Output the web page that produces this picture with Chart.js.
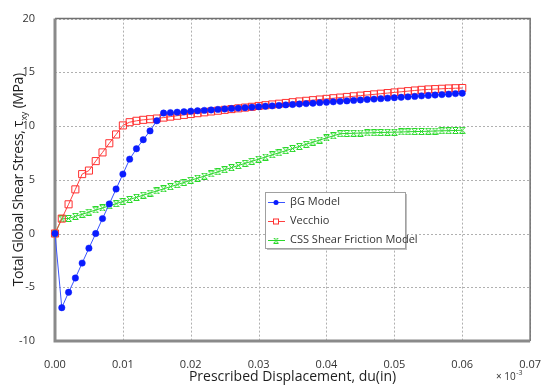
<!DOCTYPE html>
<html lang="en">
<head>
  <meta charset="UTF-8" />
  <title>Shear stress vs displacement</title>
  <script src="https://cdn.jsdelivr.net/npm/chart.js"></script>
  <style>
    html, body { margin: 0; padding: 0; background: #fff; }
    .c-panel_graph { width: 550px; height: 391px; position: relative; }
  </style>
</head>
<body>
  <div class="c-panel_graph">
    <canvas id="myChart_shear"></canvas>
  </div>

  <script>
    // prescribed displacement (x), one step of 0.001
    const displacement = [
      0.000, 0.001, 0.002, 0.003, 0.004, 0.005, 0.006, 0.007, 0.008, 0.009,
      0.010, 0.011, 0.012, 0.013, 0.014, 0.015, 0.016, 0.017, 0.018, 0.019,
      0.020, 0.021, 0.022, 0.023, 0.024, 0.025, 0.026, 0.027, 0.028, 0.029,
      0.030, 0.031, 0.032, 0.033, 0.034, 0.035, 0.036, 0.037, 0.038, 0.039,
      0.040, 0.041, 0.042, 0.043, 0.044, 0.045, 0.046, 0.047, 0.048, 0.049,
      0.050, 0.051, 0.052, 0.053, 0.054, 0.055, 0.056, 0.057, 0.058, 0.059,
      0.060
    ];

    const betaGModel = [
      0, -6.90, -5.47, -4.14, -2.75, -1.36, 0, 1.39, 2.75, 4.14,
      5.53, 6.92, 7.89, 8.73, 9.55, 10.49, 11.21, 11.25, 11.29, 11.33,
      11.38, 11.42, 11.46, 11.50, 11.55, 11.59, 11.63, 11.67, 11.71, 11.76,
      11.80, 11.84, 11.88, 11.92, 11.97, 12.01, 12.05, 12.09, 12.13, 12.18,
      12.22, 12.26, 12.30, 12.34, 12.39, 12.43, 12.47, 12.51, 12.55, 12.60,
      12.64, 12.68, 12.72, 12.76, 12.81, 12.85, 12.89, 12.93, 12.97, 13.02,
      13.06
    ];

    const vecchio = [
      0, 1.39, 2.72, 4.11, 5.53, 5.86, 6.74, 7.55, 8.40, 9.22,
      10.06, 10.36, 10.49, 10.58, 10.64, 10.70, 10.79, 10.88, 10.96, 11.04,
      11.12, 11.20, 11.28, 11.36, 11.43, 11.51, 11.58, 11.65, 11.72, 11.79,
      11.87, 11.94, 12.01, 12.08, 12.15, 12.22, 12.29, 12.35, 12.41, 12.47,
      12.53, 12.59, 12.65, 12.71, 12.77, 12.83, 12.89, 12.95, 13.01, 13.07,
      13.13, 13.19, 13.25, 13.31, 13.37, 13.41, 13.44, 13.47, 13.50, 13.52,
      13.54
    ];

    const cssShearFriction = [
      0, 1.36, 1.40, 1.60, 1.79, 1.99, 2.19, 2.38, 2.58, 2.78,
      2.98, 3.17, 3.37, 3.57, 3.77, 3.96, 4.16, 4.36, 4.55, 4.75,
      4.95, 5.15, 5.34, 5.54, 5.74, 5.94, 6.13, 6.33, 6.53, 6.72,
      6.92, 7.12, 7.32, 7.51, 7.71, 7.91, 8.11, 8.30, 8.50, 8.70,
      8.90, 9.09, 9.29, 9.31, 9.33, 9.35, 9.36, 9.38, 9.40, 9.42,
      9.43, 9.45, 9.47, 9.49, 9.50, 9.52, 9.54, 9.56, 9.57, 9.59,
      9.61
    ];

    const xTickValues = [0, 0.01, 0.02, 0.03, 0.04, 0.05, 0.06, 0.07];
    const yTickValues = [-10, -5, 0, 5, 10, 15, 20];
    const seriesNames = ['\u03B2G Model', 'Vecchio', 'CSS Shear Friction Model'];

    const FONT = '"Open Sans", "Liberation Sans", sans-serif';
    const TEXT_COLOR = '#333333';
    const TITLE_COLOR = '#1e1e1e';

    // hourglass shaped marker for the CSS series
    function makeHourglass(color) {
      const c = document.createElement('canvas');
      c.width = 7;
      c.height = 7;
      const g = c.getContext('2d');
      g.strokeStyle = color;
      g.lineWidth = 1;
      g.beginPath();
      g.moveTo(0.5, 0.5); g.lineTo(6.5, 0.5);
      g.moveTo(0.5, 6.5); g.lineTo(6.5, 6.5);
      g.moveTo(1, 1); g.lineTo(6, 6);
      g.moveTo(6, 1); g.lineTo(1, 6);
      g.stroke();
      return c;
    }
    const greenMarker = makeHourglass('#2ad82a');

    function toPoints(ys) {
      return displacement.map((x, i) => ({ x: x, y: ys[i] }));
    }

    function drawGrid(chart) {
      const { ctx, chartArea: a, scales } = chart;
      ctx.save();
      ctx.strokeStyle = '#b0b0b0';
      ctx.lineWidth = 1;
      ctx.setLineDash([2, 2]);
      xTickValues.forEach(v => {
        const px = Math.round(scales.x.getPixelForValue(v)) + 0.5;
        ctx.beginPath();
        ctx.moveTo(px, a.top);
        ctx.lineTo(px, a.bottom);
        ctx.stroke();
      });
      yTickValues.forEach(v => {
        const py = Math.round(scales.y.getPixelForValue(v)) + 0.5;
        ctx.beginPath();
        ctx.moveTo(a.left, py);
        ctx.lineTo(a.right, py);
        ctx.stroke();
      });
      ctx.restore();
    }

    function drawFrame(chart) {
      const { ctx, chartArea: a } = chart;
      ctx.save();
      ctx.strokeStyle = '#707070';
      ctx.lineWidth = 1.5;
      ctx.beginPath();
      ctx.moveTo(a.left, a.top);
      ctx.lineTo(a.right, a.top);
      ctx.lineTo(a.right, a.bottom);
      ctx.stroke();
      ctx.strokeStyle = '#8a8a8a';
      ctx.lineWidth = 3;
      ctx.beginPath();
      ctx.moveTo(a.left, a.top);
      ctx.lineTo(a.left, a.bottom);
      ctx.lineTo(a.right, a.bottom);
      ctx.stroke();
      ctx.restore();
    }

    // draws dotted grid, frame, axis titles, the x10^-3 note and the boxed legend
    const decorations = {
      id: 'decorations',
      beforeDraw(chart) {
        const ctx = chart.ctx;
        ctx.save();
        ctx.fillStyle = '#ffffff';
        ctx.fillRect(0, 0, chart.width, chart.height);
        ctx.restore();
        drawGrid(chart);
        drawFrame(chart);
      },
      afterDraw(chart) {
        const { ctx, chartArea: a } = chart;
        const midX = (a.left + a.right) / 2;
        const midY = (a.top + a.bottom) / 2;
        ctx.save();
        ctx.fillStyle = TITLE_COLOR;
        ctx.textBaseline = 'middle';

        // x title
        ctx.font = '14px ' + FONT;
        ctx.textAlign = 'center';
        ctx.fillText('Prescribed Displacement, du(in)', midX, 377);

        // x10^-3 note
        ctx.fillStyle = TEXT_COLOR;
        ctx.font = '10px ' + FONT;
        ctx.textAlign = 'left';
        ctx.fillText('\u00D7 10', 496, 377);
        const w = ctx.measureText('\u00D7 10').width;
        ctx.font = '7px ' + FONT;
        ctx.fillText('-3', 496 + w + 0.5, 373);
        ctx.restore();

        // y title with subscript
        ctx.save();
        ctx.fillStyle = TITLE_COLOR;
        ctx.textBaseline = 'middle';
        ctx.translate(19, midY);
        ctx.rotate(-Math.PI / 2);
        ctx.letterSpacing = '-0.4px';
        const partA = 'Total Global Shear Stress, \u03C4';
        const partB = 'xy';
        const partC = ' (MPa)';
        ctx.font = '14px ' + FONT;
        const wa = ctx.measureText(partA).width;
        const wc = ctx.measureText(partC).width;
        ctx.font = '9px ' + FONT;
        const wb = ctx.measureText(partB).width + 1;
        const x0 = -(wa + wb + wc) / 2;
        ctx.textAlign = 'left';
        ctx.font = '14px ' + FONT;
        ctx.fillText(partA, x0, 0);
        ctx.font = '9px ' + FONT;
        ctx.fillText(partB, x0 + wa + 0.5, 5);
        ctx.font = '14px ' + FONT;
        ctx.fillText(partC, x0 + wa + wb, 0);
        ctx.restore();

        // legend box
        const box = { x: 265, y: 192, w: 140, h: 56 };
        ctx.save();
        ctx.fillStyle = '#c0c0c0';
        ctx.fillRect(box.x + 2, box.y + 2, box.w, box.h);
        ctx.fillStyle = '#ffffff';
        ctx.fillRect(box.x, box.y, box.w, box.h);
        ctx.strokeStyle = '#a0a0a0';
        ctx.lineWidth = 1;
        ctx.strokeRect(box.x + 0.5, box.y + 0.5, box.w, box.h);

        const rows = [202, 221, 240];
        chart.data.datasets.forEach((ds, i) => {
          const y = rows[i];
          ctx.strokeStyle = ds.borderColor;
          ctx.lineWidth = 1;
          ctx.beginPath();
          ctx.moveTo(268, y + 0.5);
          ctx.lineTo(285, y + 0.5);
          ctx.stroke();
          ctx.save();
          ctx.fillStyle = ds.pointBackgroundColor;
          ctx.strokeStyle = ds.pointBorderColor;
          ctx.lineWidth = 1;
          if (ds.pointStyle === 'circle') {
            ctx.beginPath();
            ctx.arc(276, y + 0.5, 2.5, 0, Math.PI * 2);
            ctx.fill();
          } else if (ds.pointStyle === 'rect') {
            ctx.fillStyle = '#ffffff';
            ctx.fillRect(273, y - 2, 6, 5);
            ctx.strokeRect(273.5, y - 2, 5, 5);
          } else {
            ctx.drawImage(greenMarker, 273, y - 2.5, 6, 6);
          }
          ctx.restore();
          ctx.fillStyle = TEXT_COLOR;
          ctx.font = '11px ' + FONT;
          ctx.textAlign = 'left';
          ctx.textBaseline = 'middle';
          ctx.fillText(ds.label, 290, y);
        });
        ctx.restore();
      }
    };

    const el = document.getElementById('myChart_shear');

    new Chart(el, {
      type: 'line',
      data: {
        datasets: [{
          label: seriesNames[0],
          data: toPoints(betaGModel),
          borderColor: '#3a55ff',
          borderWidth: 1,
          pointStyle: 'circle',
          pointRadius: 3.2,
          pointBackgroundColor: '#0a1cff',
          pointBorderColor: '#0a1cff',
          pointBorderWidth: 0.5,
          clip: false
        }, {
          label: seriesNames[1],
          data: toPoints(vecchio),
          borderColor: '#ff4040',
          borderWidth: 1,
          pointStyle: 'rect',
          pointRadius: 5,
          pointBackgroundColor: 'rgba(255,255,255,0)',
          pointBorderColor: '#ff3030',
          pointBorderWidth: 1,
          clip: false
        }, {
          label: seriesNames[2],
          data: toPoints(cssShearFriction),
          borderColor: '#2ad82a',
          borderWidth: 1,
          pointStyle: greenMarker,
          pointBackgroundColor: '#2ad82a',
          pointBorderColor: '#2ad82a',
          pointBorderWidth: 1,
          clip: false
        }]
      },
      options: {
        responsive: true,
        maintainAspectRatio: false,
        animation: false,
        layout: {
          padding: { left: 0, top: 10, right: 14, bottom: 0 }
        },
        plugins: {
          legend: { display: false },
          tooltip: { enabled: false }
        },
        scales: {
          x: {
            type: 'linear',
            min: 0,
            max: 0.07,
            afterBuildTicks: (scale) => {
              scale.ticks = xTickValues.map(v => ({ value: v }));
            },
            afterFit: (scale) => { scale.height = 50; },
            ticks: {
              padding: 9,
              color: TEXT_COLOR,
              font: { family: FONT, size: 11 },
              maxRotation: 0,
              callback: (v) => Number(v).toFixed(2)
            },
            grid: { display: false },
            border: { display: false }
          },
          y: {
            min: -10,
            max: 20,
            afterBuildTicks: (scale) => {
              scale.ticks = yTickValues.map(v => ({ value: v }));
            },
            afterFit: (scale) => { scale.width = 55; },
            ticks: {
              padding: 12,
              color: TEXT_COLOR,
              font: { family: FONT, size: 11 }
            },
            grid: { display: false },
            border: { display: false }
          }
        }
      },
      plugins: [decorations]
    });
  </script>
</body>
</html>
